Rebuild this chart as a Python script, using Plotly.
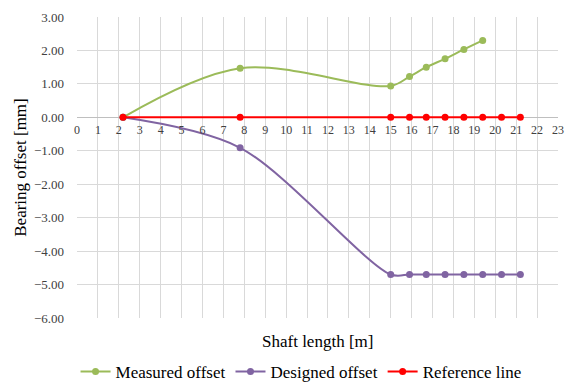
import plotly.graph_objects as go

# Data
x_pos = [2.2, 7.8, 15.0, 15.9, 16.7, 17.6, 18.5, 19.4, 20.3, 21.2]
measured_x = [2.2, 7.8, 15.0, 15.9, 16.7, 17.6, 18.5, 19.4]
measured = [0.0, 1.47, 0.94, 1.22, 1.50, 1.75, 2.03, 2.30]
designed = [0.0, -0.91, -4.70, -4.70, -4.70, -4.70, -4.70, -4.70, -4.70, -4.70]
reference = [0.0, 0.0, 0.0, 0.0, 0.0, 0.0, 0.0, 0.0, 0.0, 0.0]
x_ticks = list(range(0, 24))
y_ticks = [3, 2, 1, 0, -1, -2, -3, -4, -5, -6]

FONT = "Times New Roman, Liberation Serif, DejaVu Serif, serif"
GREEN = "#9bbb59"
PURPLE = "#8064a2"
RED = "#ff0000"

fig = go.Figure()
fig.add_trace(go.Scatter(x=measured_x, y=measured, name="Measured offset",
                         mode="lines+markers",
                         line=dict(color=GREEN, width=2, shape="spline", smoothing=1),
                         marker=dict(color=GREEN, size=7)))
fig.add_trace(go.Scatter(x=x_pos, y=designed, name="Designed offset",
                         mode="lines+markers",
                         line=dict(color=PURPLE, width=2, shape="spline", smoothing=0.9),
                         marker=dict(color=PURPLE, size=7)))
fig.add_trace(go.Scatter(x=x_pos, y=reference, name="Reference line",
                         mode="lines+markers",
                         line=dict(color=RED, width=2),
                         marker=dict(color=RED, size=7)))

fig.update_layout(
    width=568, height=390,
    margin=dict(l=77, r=10, t=17, b=72),
    plot_bgcolor="white", paper_bgcolor="white",
    font=dict(family=FONT, color="#404040"),
    showlegend=True,
    legend=dict(orientation="h", xref="container", yref="container",
                x=0.53, xanchor="center", y=0.0, yanchor="bottom",
                font=dict(size=17, color="#000000", family=FONT),
                itemwidth=30, tracegroupgap=0),
    xaxis=dict(range=[0, 23], tickvals=x_ticks, ticktext=[str(v) for v in x_ticks],
               showgrid=True, gridcolor="#d9d9d9", gridwidth=1,
               zeroline=False, showline=False, ticks="",
               anchor="free", position=2/3, automargin=False,
               ticklabelstandoff=4,
               tickfont=dict(size=12, color="#404040", family=FONT)),
    yaxis=dict(range=[-6, 3], tickvals=y_ticks, tickformat=".2f",
               showgrid=True, gridcolor="#d9d9d9", gridwidth=1,
               zeroline=True, zerolinecolor="#bfbfbf", zerolinewidth=1,
               showline=False, ticks="", automargin=False,
               ticklabelstandoff=12,
               tickfont=dict(size=13, color="#404040", family=FONT),
               title=dict(text="Bearing offset [mm]", standoff=2,
                          font=dict(size=17, color="#000000", family=FONT))),
)

fig.add_annotation(text="Shaft length [m]", xref="paper", yref="paper",
                   x=0.5, y=-0.04, xanchor="center", yanchor="top", showarrow=False,
                   font=dict(size=17, color="#000000", family=FONT))

fig.write_html("out.html", config={"displayModeBar": False},
               post_script="document.body.style.margin='0';document.body.style.padding='0';")
